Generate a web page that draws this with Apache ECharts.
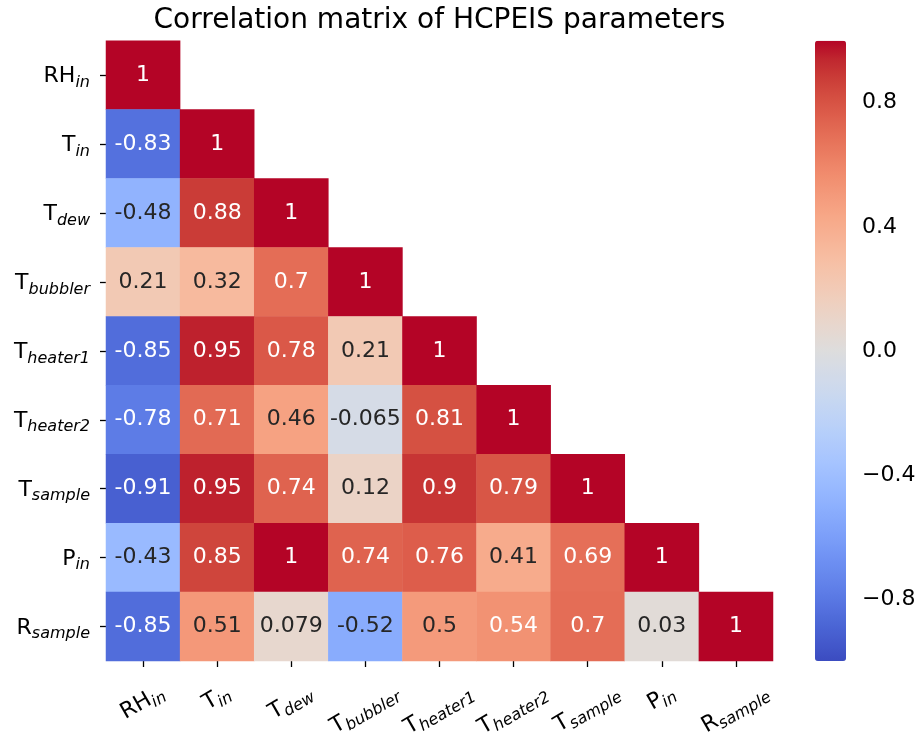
<!DOCTYPE html>
<html><head><meta charset="utf-8">
<script src="https://cdn.jsdelivr.net/npm/echarts@6/dist/echarts.min.js"></script>
<style>html,body{margin:0;padding:0;background:#fff}#c{width:922px;height:738px}</style>
</head><body><div id="c"></div>
<script>
// ---- data ----
const title = 'Correlation matrix of HCPEIS parameters';
const labelMain = ['RH', 'T', 'T', 'T', 'T', 'T', 'T', 'P', 'R'];
const labelSub = ['in', 'in', 'dew', 'bubbler', 'heater1', 'heater2', 'sample', 'in', 'sample'];
const row0 = [1];
const row1 = [-0.83, 1];
const row2 = [-0.48, 0.88, 1];
const row3 = [0.21, 0.32, 0.7, 1];
const row4 = [-0.85, 0.95, 0.78, 0.21, 1];
const row5 = [-0.78, 0.71, 0.46, -0.065, 0.81, 1];
const row6 = [-0.91, 0.95, 0.74, 0.12, 0.9, 0.79, 1];
const row7 = [-0.43, 0.85, 1, 0.74, 0.76, 0.41, 0.69, 1];
const row8 = [-0.85, 0.51, 0.079, -0.52, 0.5, 0.54, 0.7, 0.03, 1];
const rows = [row0, row1, row2, row3, row4, row5, row6, row7, row8];
const colorbarTicks = [-0.8, -0.4, 0, 0.4, 0.8];

// ---- style ----
const coolwarm = ['#3b4cc0','#445acc','#4d68d7','#5775e1','#6282ea','#6c8ef1','#779af7','#82a5fb','#8db0fe','#98b9ff','#a3c2ff','#aec9fd','#b8d0f9','#c2d5f4','#ccd9ee','#d5dbe6','#dddddd','#e5d8d1','#ecd3c5','#f1ccb8','#f5c4ac','#f7bb9f','#f7b193','#f7a786','#f49a7b','#f18d6f','#ec7f63','#e57058','#de604d','#d55042','#cb3e38','#c0282f','#b40426'];
const FONT = 'DejaVu Sans';
const MAIN_SIZE = 22, SUB_SIZE = 16;

function hexToRgb(h) { return [1,3,5].map(i => parseInt(h.substr(i, 2), 16)); }
function cmap(v) {
  const t = Math.max(0, Math.min(1, (v + 1) / 2)) * (coolwarm.length - 1);
  const i = Math.min(coolwarm.length - 2, Math.floor(t)), f = t - i;
  const a = hexToRgb(coolwarm[i]), b = hexToRgb(coolwarm[i + 1]);
  return a.map((c, k) => c + (b[k] - c) * f);
}
function luminance(rgb) {
  const l = rgb.map(c => { c /= 255; return c <= 0.03928 ? c / 12.92 : Math.pow((c + 0.055) / 1.055, 2.4); });
  return 0.2126 * l[0] + 0.7152 * l[1] + 0.0722 * l[2];
}

const categories = labelMain.map((m, i) => m + '_' + labelSub[i]);
const data = [];
rows.forEach((r, y) => r.forEach((v, x) => {
  data.push({ value: [x, y, v], label: { color: luminance(cmap(v)) > 0.408 ? '#262626' : '#ffffff' } });
}));

// rotated x labels: matplotlib puts the top of the rotated box at a fixed distance,
// so shift each label's centre down by a quarter of its width
const cv = document.createElement('canvas').getContext('2d');
function measure(txt, font) { cv.font = font; return cv.measureText(txt).width; }
const xCats = categories.map((c, i) => {
  const w = measure(labelMain[i], MAIN_SIZE + 'px "' + FONT + '"') + measure(labelSub[i], 'italic ' + SUB_SIZE + 'px "' + FONT + '"');
  const d = w / 4;
  return { value: c, textStyle: { align: 'center', verticalAlign: 'middle', padding: [1.732 * d, d, 0, 0] } };
});

const rich = {
  m: { fontFamily: FONT, fontSize: MAIN_SIZE, color: '#000', lineHeight: 24, verticalAlign: 'top' },
  s: { fontFamily: FONT, fontSize: SUB_SIZE, fontStyle: 'italic', color: '#000', lineHeight: 16, padding: [9, 0, 0, 0], verticalAlign: 'top' }
};
function fmt(val) { const i = categories.indexOf(val); return '{m|' + labelMain[i] + '}{s|' + labelSub[i] + '}'; }

const chart = echarts.init(document.getElementById('c'), null, { renderer: 'canvas' });
chart.setOption({
  animation: false,
  backgroundColor: '#fff',
  title: { text: title, left: 439.5, textAlign: 'center', top: 7, padding: 0,
    textStyle: { fontFamily: FONT, fontSize: 28, fontWeight: 'normal', color: '#000' } },
  grid: [
    { left: 106, top: 40.7, width: 667, height: 620.3, containLabel: false, outerBoundsMode: 'none' },
    { left: 815, top: 40.7, width: 31, height: 620.3, containLabel: false, outerBoundsMode: 'none' }
  ],
  xAxis: [
    { type: 'category', gridIndex: 0, data: xCats, position: 'bottom',
      axisLine: { show: false }, splitLine: { show: false },
      axisTick: { show: true, alignWithLabel: true, length: 6, lineStyle: { color: '#000', width: 1.3 } },
      axisLabel: { interval: 0, rotate: 30, align: 'center', verticalAlign: 'middle', margin: 31, formatter: fmt, rich: rich } },
    { type: 'value', gridIndex: 1, show: false, min: 0, max: 1 }
  ],
  yAxis: [
    { type: 'category', gridIndex: 0, data: categories, inverse: true,
      axisLine: { show: false }, splitLine: { show: false },
      axisTick: { show: true, alignWithLabel: true, length: 6, lineStyle: { color: '#000', width: 1.3 } },
      axisLabel: { interval: 0, margin: 16, padding: [5, 0, 0, 0], formatter: fmt, rich: rich } },
    { type: 'value', gridIndex: 1, position: 'right', min: -1, max: 1,
      axisLine: { show: false }, splitLine: { show: false },
      axisTick: { show: true, length: 6, customValues: colorbarTicks, lineStyle: { color: '#000', width: 1.3 } },
      axisLabel: { customValues: colorbarTicks, margin: 16, fontFamily: FONT, fontSize: MAIN_SIZE, color: '#000',
        formatter: v => (v < 0 ? '\u2212' : '') + Math.abs(v).toFixed(1) } }
  ],
  visualMap: {
    type: 'continuous', min: -1, max: 1, calculable: false, seriesIndex: 0,
    left: 815, top: 40.7, itemWidth: 31, itemHeight: 620.3, padding: 0,
    text: null, showLabel: false, hoverLink: false,
    inRange: { color: coolwarm }
  },
  series: [{
    type: 'heatmap', xAxisIndex: 0, yAxisIndex: 0, data: data,
    label: { show: true, fontFamily: FONT, fontSize: MAIN_SIZE, formatter: p => String(p.value[2]) },
    itemStyle: { borderWidth: 0 },
    emphasis: { disabled: true }
  }]
});
</script></body></html>
